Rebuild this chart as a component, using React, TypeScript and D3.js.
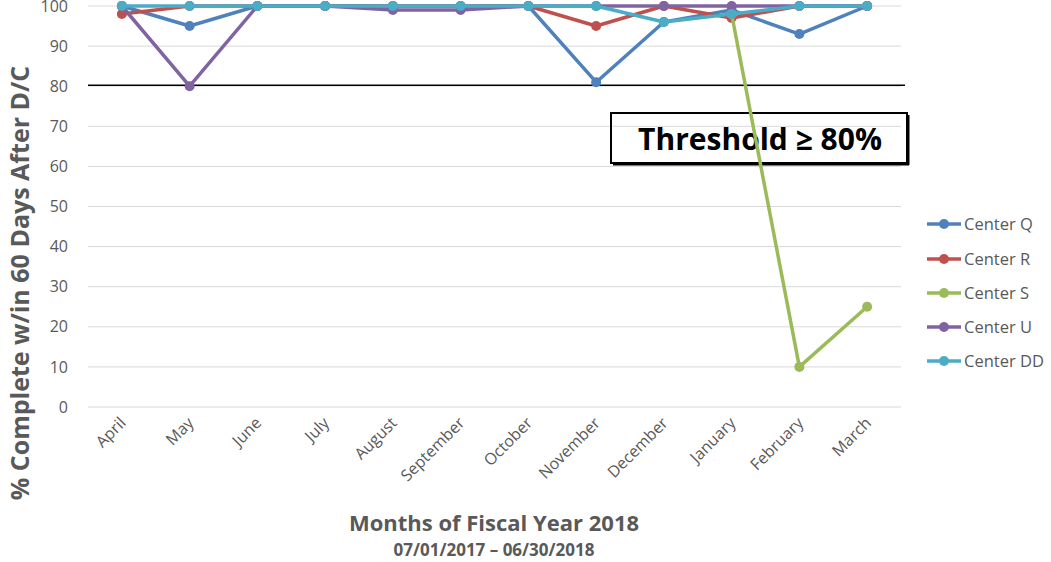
import React from "react";
import * as d3 from "d3";

const months = ["April","May","June","July","August","September","October","November","December","January","February","March"];
const seriesNames = ["Center Q","Center R","Center S","Center U","Center DD"];
const centerQ = [100,95,100,100,100,100,100,81,96,99,93,100];
const centerR = [98,100,100,100,100,100,100,95,100,97,100,100];
const centerS: (number | null)[] = [null,null,null,null,null,null,null,null,null,98,10,25];
const centerU = [100,80,100,100,99,99,100,100,100,100,100,100];
const centerDD = [100,100,100,100,100,100,100,100,96,98,100,100];
const yTicks = [0,10,20,30,40,50,60,70,80,90,100];
const colors = ["#4F81BD","#C0504D","#9BBB59","#8064A2","#4BACC6"];
const threshold = 80;

const W = 1051, H = 562;
const plotLeft = 88, plotRight = 901, plotTop = 6, plotBottom = 407;
const FONT = "'Open Sans', 'Noto Sans', sans-serif";
const GRAY = "#595959";

export default function App() {
  const data: (number | null)[][] = [centerQ, centerR, centerS, centerU, centerDD];
  const x = d3.scaleBand<string>().domain(months).range([plotLeft, plotRight]);
  const cx = (m: string) => (x(m) as number) + x.bandwidth() / 2;
  const y = d3.scaleLinear().domain([0, 100]).range([plotBottom, plotTop]);
  const line = d3.line<number | null>()
    .defined((d) => d !== null)
    .x((_, i) => cx(months[i]))
    .y((d) => y(d as number));
  const legendY = [224, 259, 293, 327, 361];

  return (
    <svg width={W} height={H} style={{ position: "absolute", left: 0, top: 0, background: "#fff" }} fontFamily={FONT}>
      {yTicks.map((t) => (
        <g key={t}>
          <line x1={plotLeft} x2={plotRight} y1={y(t)} y2={y(t)} stroke="#D9D9D9" strokeWidth={1} />
          <text x={68} y={y(t)} dy="0.35em" textAnchor="end" fontSize={16} fill={GRAY}>{t}</text>
        </g>
      ))}
      <line x1={plotLeft} x2={905} y1={y(threshold) - 1} y2={y(threshold) - 1} stroke="#000" strokeWidth={1.5} />
      {months.map((m) => (
        <text key={m} transform={`translate(${cx(m) + 5},${424}) rotate(-45)`} textAnchor="end" fontSize={16} fill={GRAY}>{m}</text>
      ))}
      <rect x={611} y={113} width={296} height={50} fill="none" stroke="#000" strokeWidth={2} />
      <line x1={613} x2={909} y1={164.5} y2={164.5} stroke="#000" strokeWidth={2} />
      <line x1={908.5} x2={908.5} y1={115} y2={165} stroke="#000" strokeWidth={2} />
      <text x={760} y={150} textAnchor="middle" fontSize={30} fontWeight="bold" fill="#000">Threshold ≥ 80%</text>
      {data.map((s, si) => (
        <g key={seriesNames[si]}>
          <path d={line(s) || ""} fill="none" stroke={colors[si]} strokeWidth={3.5} strokeLinejoin="round" />
          {s.map((v, i) => v === null ? null : (
            <circle key={i} cx={cx(months[i])} cy={y(v)} r={5} fill={colors[si]} />
          ))}
        </g>
      ))}
      {seriesNames.map((n, i) => (
        <g key={n}>
          <line x1={927} x2={961} y1={legendY[i]} y2={legendY[i]} stroke={colors[i]} strokeWidth={3.5} />
          <circle cx={944} cy={legendY[i]} r={5} fill={colors[i]} />
          <text x={964} y={legendY[i]} dy="0.35em" fontSize={16.5} fill={GRAY}>{n}</text>
        </g>
      ))}
      <text transform={`translate(29,${283}) rotate(-90)`} textAnchor="middle" fontSize={25} fontWeight="bold" fill={GRAY}>% Complete w/in 60 Days After D/C</text>
      <text x={494} y={531} textAnchor="middle" fontSize={22} fontWeight="bold" fill={GRAY}>Months of Fiscal Year 2018</text>
      <text x={494} y={556} textAnchor="middle" fontSize={17} fontWeight="bold" fill={GRAY}>07/01/2017 – 06/30/2018</text>
    </svg>
  );
}
